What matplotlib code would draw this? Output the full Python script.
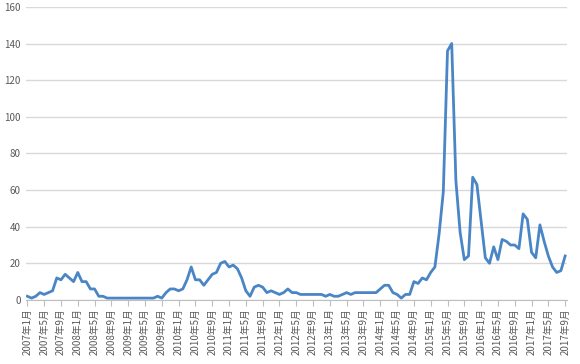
import matplotlib
matplotlib.use('Agg')
import matplotlib.pyplot as plt
import pandas as pd

plt.rcParams['font.family'] = ['Noto Sans CJK SC', 'DejaVu Sans']

# --- Data: monthly values, 2007-01 .. 2017-09 ---
values_2007 = [2, 1, 2, 4, 3, 4, 5, 12, 11, 14, 12, 10]
values_2008 = [15, 10, 10, 6, 6, 2, 2, 1, 1, 1, 1, 1]
values_2009 = [1, 1, 1, 1, 1, 1, 1, 2, 1, 4, 6, 6]
values_2010 = [5, 6, 11, 18, 11, 11, 8, 11, 14, 15, 20, 21]
values_2011 = [18, 19, 17, 12, 5, 2, 7, 8, 7, 4, 5, 4]
values_2012 = [3, 4, 6, 4, 4, 3, 3, 3, 3, 3, 3, 2]
values_2013 = [3, 2, 2, 3, 4, 3, 4, 4, 4, 4, 4, 4]
values_2014 = [6, 8, 8, 4, 3, 1, 3, 3, 10, 9, 12, 11]
values_2015 = [15, 18, 36, 59, 136, 140, 65, 37, 22, 24, 67, 63]
values_2016 = [43, 23, 20, 29, 22, 33, 32, 30, 30, 28, 47, 44]
values_2017 = [26, 23, 41, 32, 24, 18, 15, 16, 24]

values = (values_2007 + values_2008 + values_2009 + values_2010 + values_2011 +
          values_2012 + values_2013 + values_2014 + values_2015 + values_2016 +
          values_2017)
months = pd.date_range('2007-01-01', periods=len(values), freq='MS')
labels = [f'{m.year}年{m.month}月' for m in months]

# --- Plot ---
fig = plt.figure(figsize=(5.8, 3.64), dpi=100)
ax = fig.add_axes([0.045, 0.176, 0.933, 0.805])

x = list(range(len(values)))
ax.plot(x, values, color='#4a86c5', linewidth=2.0, solid_joinstyle='round')

ax.set_ylim(0, 160)
ax.set_yticks(range(0, 161, 20))
ax.set_xlim(-0.3, len(values) - 0.5)
ax.set_xticks(x[::4])
ax.set_xticklabels(labels[::4], rotation=90, fontsize=7, color='#595959')
ax.tick_params(axis='y', length=0, labelsize=7, labelcolor='#595959', pad=4)
ax.tick_params(axis='x', length=4, color='#bfbfbf', pad=2)

ax.grid(axis='y', color='#d9d9d9', linewidth=1)
ax.set_axisbelow(True)
for side in ['top', 'right', 'left']:
    ax.spines[side].set_visible(False)
ax.spines['bottom'].set_color('#bfbfbf')

plt.savefig('out.png', dpi=100)
